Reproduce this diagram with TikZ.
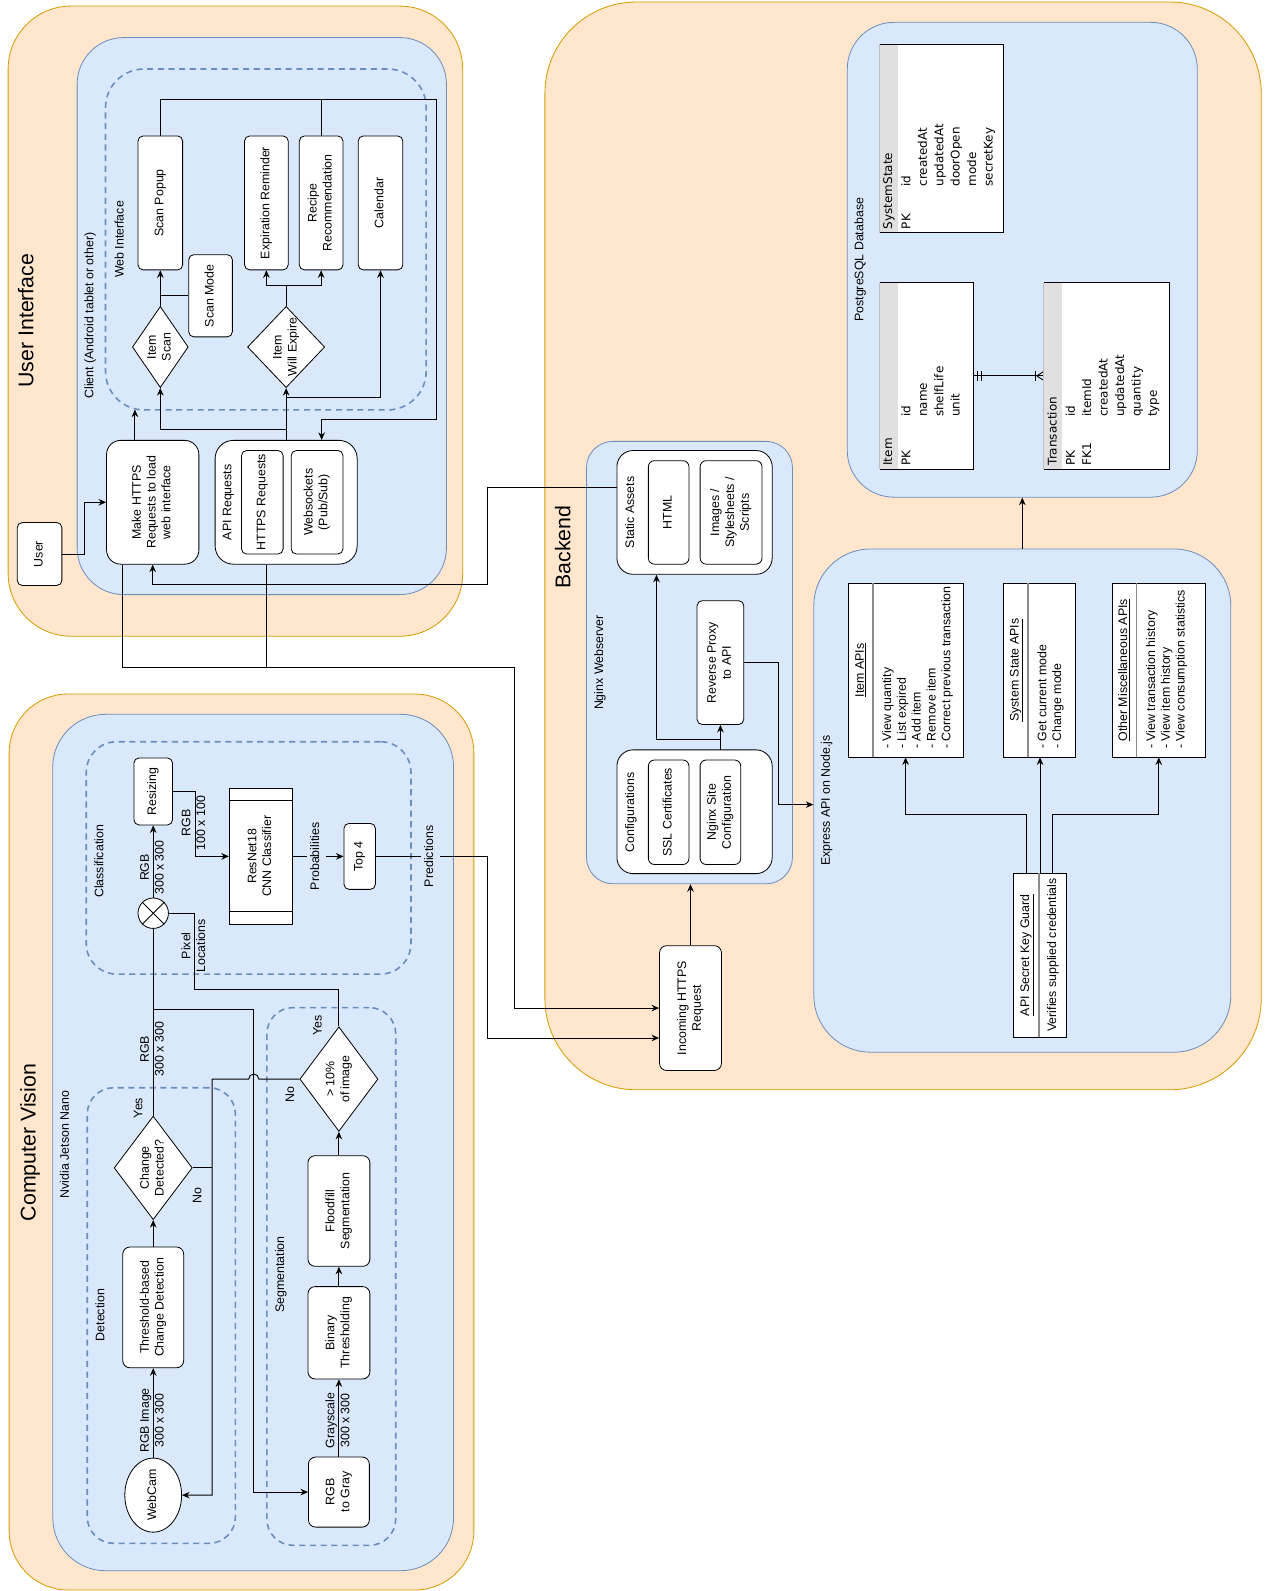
\documentclass[tikz,border=0pt]{standalone}
\usepackage{fontspec}
\setmainfont{Liberation Sans}
\newfontfamily\dbfont{DejaVu Sans}
\usepackage{graphicx}
\usetikzlibrary{arrows.meta}
\usetikzlibrary{shapes.geometric}
\pgfdeclarelayer{grouplayer}
\pgfdeclarelayer{edgelayer}
\pgfdeclarelayer{nodelayer}
\pgfsetlayers{grouplayer,edgelayer,nodelayer,main}
\definecolor{zonefill}{HTML}{FFE6CC}
\definecolor{zoneline}{HTML}{D79B00}
\definecolor{hostfill}{HTML}{DAE8FC}
\definecolor{hostline}{HTML}{6C8EBF}
\definecolor{hdrfill}{HTML}{E0E0E0}
\newcommand{\vtext}[1]{\rotatebox{90}{\begin{tabular}{@{}c@{}}#1\end{tabular}}}
\newcommand{\vlist}[1]{\rotatebox{90}{\begin{tabular}{@{}l@{}}#1\end{tabular}}}
\tikzstyle{zone}=[draw=zoneline, fill=zonefill, line width=0.8pt, inner sep=0pt]
\tikzstyle{host}=[draw=hostline, fill=hostfill, line width=0.8pt, inner sep=0pt]
\tikzstyle{stage}=[draw=hostline, dash pattern=on 6pt off 4.5pt, line width=1.6pt, inner sep=0pt]
\tikzstyle{block}=[draw=black, fill=white, rounded corners=5pt, line width=0.8pt, inner sep=0pt]
\tikzstyle{plainbox}=[draw=black, fill=white, line width=0.8pt, inner sep=0pt]
\tikzstyle{decision}=[diamond, draw=black, fill=white, line width=0.8pt, inner sep=-8pt]
\tikzstyle{txt}=[inner sep=0pt]
\tikzstyle{heading}=[inner sep=0pt, font=\fontsize{21}{25}\selectfont]
\tikzstyle{flow}=[-{Stealth[length=7.5pt,width=6.5pt,inset=2.5pt]}, draw=black, line width=0.9pt]
\tikzstyle{link}=[draw=black, line width=0.9pt]
\tikzstyle{divider}=[draw=black!45, line width=1.8pt]
\tikzstyle{schema}=[fill=white, inner sep=0pt]
\tikzstyle{dbtext}=[anchor=south, inner sep=0pt, font=\dbfont\fontsize{11.8}{16.2}\selectfont]

\begin{document}
\begin{tikzpicture}[x=1pt, y=-1pt, every node/.style={font=\fontsize{12.2}{14.6}\selectfont}]
	\useasboundingbox (0,0) rectangle (1247,1568);
	\begin{pgfonlayer}{grouplayer}
		\fill [white] (0,0) rectangle (1247,1568);
		\node [style=zone, rounded corners=62pt, minimum width=448pt, minimum height=621pt] (0) at (232, 316.5) {};
		\node [style=host, rounded corners=46pt, minimum width=364pt, minimum height=549pt] (1) at (258, 311.5) {};
		\node [style=stage, rounded corners=38pt, minimum width=316pt, minimum height=336pt] (2) at (262, 236) {};
		\node [style=zone, rounded corners=58pt, minimum width=458pt, minimum height=883pt] (3) at (238, 1125.5) {};
		\node [style=host, rounded corners=52pt, minimum width=395pt, minimum height=844pt] (4) at (249.5, 1126) {};
		\node [style=stage, rounded corners=30pt, minimum width=320pt, minimum height=229pt] (5) at (245, 845.5) {};
		\node [style=stage, rounded corners=26pt, minimum width=146pt, minimum height=449pt] (6) at (159, 1296.5) {};
		\node [style=stage, rounded corners=26pt, minimum width=127pt, minimum height=530pt] (7) at (326.5, 1258) {};
		\node [style=zone, rounded corners=90pt, minimum width=706pt, minimum height=1072pt] (8) at (890, 538) {};
		\node [style=host, rounded corners=26pt, minimum width=203pt, minimum height=436pt] (9) at (679.5, 653) {};
		\node [style=host, rounded corners=56pt, minimum width=411pt, minimum height=496pt] (10) at (1007.5, 789) {};
		\node [style=host, rounded corners=46pt, minimum width=345pt, minimum height=468pt] (11) at (1007.5, 256) {};
	\end{pgfonlayer}
	\begin{pgfonlayer}{nodelayer}
		\node [style=heading] (12) at (28, 316) {\vtext{User Interface}};
		\node [style=txt] (13) at (89, 311) {\vtext{Client (Android tablet or other)}};
		\node [style=txt] (14) at (119, 236) {\vtext{Web Interface}};
		\node [style=heading] (15) at (30, 1126) {\vtext{Computer Vision}};
		\node [style=txt] (16) at (65, 1128) {\vtext{Nvidia Jetson Nano}};
		\node [style=txt] (17) at (99, 849) {\vtext{Classification}};
		\node [style=txt] (18) at (100, 1296) {\vtext{Detection}};
		\node [style=txt] (19) at (277, 1256) {\vtext{Segmentation}};
		\node [style=heading] (20) at (557, 539) {\vtext{Backend}};
		\node [style=txt] (21) at (591.5, 653) {\vtext{Nginx Webserver}};
		\node [style=txt] (22) at (815, 789) {\vtext{Express API on Node.js}};
		\node [style=txt] (23) at (848, 256) {\vtext{PostgreSQL Database}};

		\node [style=block, minimum width=44pt, minimum height=62pt] (24) at (39, 546) {\vtext{User}};
		\node [style=block, rounded corners=14pt, minimum width=91pt, minimum height=122pt] (25) at (150.5, 495) {\vtext{Make HTTPS\\Requests to load\\web interface}};
		\node [style=block, rounded corners=18pt, minimum width=140pt, minimum height=122pt] (26) at (282, 495) {};
		\node [style=block, minimum width=41pt, minimum height=102pt] (27) at (258.5, 495) {\vtext{HTTPS Requests}};
		\node [style=block, minimum width=51pt, minimum height=102pt] (28) at (312.5, 495) {\vtext{Websockets\\(Pub/Sub)}};
		\node [style=txt] (29) at (225, 495) {\vtext{API Requests}};
		\node [style=block, minimum width=44pt, minimum height=132pt] (30) at (158, 200) {\vtext{Scan Popup}};
		\node [style=block, minimum width=43pt, minimum height=81pt] (31) at (207.5, 291.5) {\vtext{Scan Mode}};
		\node [style=decision, minimum width=55pt, minimum height=80pt] (32) at (158, 342) {\vtext{Item\\Scan}};
		\node [style=block, minimum width=43pt, minimum height=132pt] (33) at (262.5, 200) {\vtext{Expiration Reminder}};
		\node [style=block, minimum width=43pt, minimum height=132pt] (34) at (316.5, 200) {\vtext{Recipe\\Recommendation}};
		\node [style=block, minimum width=44pt, minimum height=132pt] (35) at (375, 200) {\vtext{Calendar}};
		\node [style=decision, minimum width=76pt, minimum height=80pt] (36) at (282, 342) {\vtext{Item\\Will Expire}};

		\node [style=block, ellipse, minimum width=56pt, minimum height=73pt] (37) at (151, 1473.5) {\vtext{WebCam}};
		\node [style=block, rounded corners=7pt, minimum width=60pt, minimum height=119pt] (38) at (151, 1288.5) {\vtext{Threshold-based\\Change Detection}};
		\node [style=decision, minimum width=77pt, minimum height=102pt] (39) at (151, 1151) {\vtext{Change\\Detected?}};
		\node [style=plainbox, circle, minimum size=30pt] (40) at (151, 900) {};
		\node [style=block, minimum width=38pt, minimum height=66pt] (41) at (151, 780) {\vtext{Resizing}};
		\node [style=plainbox, minimum width=62pt, minimum height=134pt] (42) at (257, 844) {\vtext{ResNet18\\CNN Classifier}};
		\node [style=block, minimum width=31pt, minimum height=65pt] (43) at (354.5, 844) {\vtext{Top 4}};
		\node [style=block, rounded corners=7pt, minimum width=60pt, minimum height=69pt] (44) at (334, 1470.5) {\vtext{RGB\\to Gray}};
		\node [style=block, rounded corners=7pt, minimum width=61pt, minimum height=91pt] (45) at (334, 1313.5) {\vtext{Binary\\Thresholding}};
		\node [style=block, rounded corners=7pt, minimum width=61pt, minimum height=109pt] (46) at (334, 1193.5) {\vtext{Floodfill\\Segmentation}};
		\node [style=decision, minimum width=77pt, minimum height=103pt] (47) at (334, 1063.5) {\vtext{> 10\%\\of image}};
		\draw [line width=0.8pt] (40.45) -- (40.225);
		\draw [line width=0.8pt] (40.135) -- (40.315);
		\draw [line width=0.8pt] ([yshift=-12pt]42.north west) -- ([yshift=-12pt]42.north east);
		\draw [line width=0.8pt] ([yshift=13pt]42.south west) -- ([yshift=13pt]42.south east);

		\node [style=txt] (48) at (151, 1400) {\vtext{RGB Image\\300 x 300}};
		\node [style=txt] (49) at (151, 1034) {\vtext{RGB\\300 x 300}};
		\node [style=txt] (50) at (151, 855) {\vtext{RGB\\300 x 300}};
		\node [style=txt] (51) at (192, 811) {\vtext{RGB\\100 x 100}};
		\node [style=txt, fill=hostfill, inner sep=2pt] (52) at (311.5, 844) {\vtext{Probabilities}};
		\node [style=txt, fill=hostfill, inner sep=2pt] (53) at (424, 844) {\vtext{Predictions}};
		\node [style=txt] (54) at (192, 932) {\vtext{Pixel\\Locations}};
		\node [style=txt] (55) at (334, 1400) {\vtext{Grayscale\\300 x 300}};
		\node [style=txt] (56) at (137.5, 1092) {\vtext{Yes}};
		\node [style=txt] (57) at (195.5, 1178) {\vtext{No}};
		\node [style=txt] (58) at (314, 1011) {\vtext{Yes}};
		\node [style=txt] (59) at (287, 1079) {\vtext{No}};

		\node [style=block, rounded corners=7pt, minimum width=61pt, minimum height=123pt] (60) at (680.5, 993.5) {\vtext{Incoming HTTPS\\Request}};
		\node [style=block, rounded corners=16pt, minimum width=153pt, minimum height=122pt] (61) at (684.5, 505) {};
		\node [style=block, rounded corners=6pt, minimum width=40pt, minimum height=102pt] (62) at (659, 505) {\vtext{HTML}};
		\node [style=block, rounded corners=6pt, minimum width=61pt, minimum height=102pt] (63) at (720.5, 505) {\vtext{Images /\\Stylesheets /\\Scripts}};
		\node [style=txt] (64) at (622, 505) {\vtext{Static Assets}};
		\node [style=block, minimum width=46pt, minimum height=122pt] (65) at (710, 653) {\vtext{Reverse Proxy\\to API}};
		\node [style=block, rounded corners=16pt, minimum width=153pt, minimum height=122pt] (66) at (684.5, 800) {};
		\node [style=block, rounded corners=6pt, minimum width=40pt, minimum height=103pt] (67) at (659, 800.5) {\vtext{SSL Certificates}};
		\node [style=block, rounded corners=6pt, minimum width=40pt, minimum height=103pt] (68) at (710, 800.5) {\vtext{Nginx Site\\Configuration}};
		\node [style=txt] (69) at (622, 800.5) {\vtext{Configurations}};

		\node [style=plainbox, minimum width=113pt, minimum height=171pt] (70) at (892.5, 660.5) {};
		\node [style=plainbox, minimum width=71pt, minimum height=171pt] (71) at (1024.5, 660.5) {};
		\node [style=plainbox, minimum width=92pt, minimum height=171pt] (72) at (1142, 660.5) {};
		\node [style=plainbox, minimum width=52pt, minimum height=161pt] (73) at (1025, 941.5) {};
		\draw [style=divider] ([xshift=25pt]70.north west) -- ([xshift=25pt]70.south west);
		\draw [style=divider] ([xshift=24.5pt]71.north west) -- ([xshift=24.5pt]71.south west);
		\draw [style=divider] ([xshift=24.5pt]72.north west) -- ([xshift=24.5pt]72.south west);
		\draw [style=divider] ([xshift=25pt]73.north west) -- ([xshift=25pt]73.south west);
		\node [style=txt] (74) at (848.5, 660.5) {\vtext{\underline{Item APIs}}};
		\node [style=txt] (75) at (1001, 660.5) {\vtext{\underline{System State APIs}}};
		\node [style=txt] (76) at (1108, 660.5) {\vtext{\underline{Other Miscellaneous APIs}}};
		\node [style=txt] (77) at (1011.5, 941.5) {\vtext{\underline{API Secret Key Guard}}};
		\node [style=txt, anchor=south] (78) at (904.5, 738) {\vlist{- View quantity\\- List expired\\- Add item\\- Remove item\\- Correct previous transaction}};
		\node [style=txt, anchor=south] (79) at (1035.5, 738) {\vlist{- Get current mode\\- Change mode}};
		\node [style=txt, anchor=south] (80) at (1150, 738) {\vlist{- View transaction history\\- View item history\\- View consumption statistics}};
		\node [style=txt, anchor=south] (81) at (1038, 1017) {\vlist{Verifies supplied credentials}};

		\node [style=schema, minimum width=122pt, minimum height=185pt] (82) at (928, 136.5) {};
		\node [style=schema, minimum width=92pt, minimum height=183pt] (83) at (913, 370.5) {};
		\node [style=schema, minimum width=123pt, minimum height=183pt] (84) at (1090.5, 370.5) {};
		\fill [hdrfill] (82.north west) rectangle ([xshift=18pt]82.south west);
		\fill [hdrfill] (83.north west) rectangle ([xshift=18pt]83.south west);
		\fill [hdrfill] (84.north west) rectangle ([xshift=18pt]84.south west);
		\draw [black!25, line width=0.8pt] (82.north west) -- (82.south west);
		\draw [black!25, line width=0.8pt] (83.north west) -- (83.south west);
		\draw [black!25, line width=0.8pt] (84.north west) -- (84.south west);
		\draw [line width=0.9pt] (82.north west) -- (82.north east) -- (82.south east) -- (82.south west);
		\draw [line width=0.9pt] (83.north west) -- (83.north east) -- (83.south east) -- (83.south west);
		\draw [line width=0.9pt] (84.north west) -- (84.north east) -- (84.south east) -- (84.south west);
		\node [style=dbtext] (86) at (876, 226) {\vlist{SystemState}};
		\node [style=dbtext] (87) at (894, 226) {\vlist{PK}};
		\node [style=dbtext] (88) at (934.5, 184) {\vlist{id\\createdAt\\updatedAt\\doorOpen\\mode\\secretKey}};
		\node [style=dbtext] (89) at (876, 459) {\vlist{Item}};
		\node [style=dbtext] (90) at (894, 459) {\vlist{PK}};
		\node [style=dbtext] (91) at (918.3, 411) {\vlist{id\\name\\shelfLife\\unit}};
		\node [style=dbtext] (92) at (1038, 459) {\vlist{Transaction}};
		\node [style=dbtext] (93) at (1064.1, 459) {\vlist{PK\\FK1}};
		\node [style=dbtext] (94) at (1096.5, 411) {\vlist{id\\itemId\\createdAt\\updatedAt\\quantity\\type}};
	\end{pgfonlayer}
	\begin{pgfonlayer}{edgelayer}
		\coordinate (100) at (430, 413);
		\coordinate (101) at (507, 658);
		\coordinate (102) at (480, 576);
		\coordinate (103) at (480, 1023);
		\coordinate (104) at (151, 995);
		\coordinate (105) at (250, 995);
		\coordinate (106) at (192, 975);
		\coordinate (107) at (209, 1063.5);
		\draw [style=flow] (24.east) -- ++(22,0) |- (25.west);
		\draw [style=flow] ([xshift=-17.5pt]25.north) -- ++(0,-30);
		\draw [style=flow] (26.north) -- (36.south);
		\draw [style=flow] ([yshift=10pt]26.north) -| (32.south);
		\draw [style=flow] ([yshift=42pt]26.north) -| (35.south);
		\draw [style=flow] (32.north) -- (30.south);
		\draw [style=link] (31.west) -- (31.west -| 30.south);
		\draw [style=flow] (36.north) -- ++(0,-20) -| (33.south);
		\draw [style=flow] (36.north) -- ++(0,-20) -| (34.south);
		\draw [style=flow] (30.north) -- ++(0,-36) -| (100) -| ([xshift=35pt]26.north);
		\draw [style=link] (34.north) -- ++(0,-36);
		\draw [style=flow] ([xshift=-29.5pt]25.south) |- (101) |- (60.west);
		\draw [style=link] ([xshift=-19pt]26.south) -- ++(0,102);
		\draw [style=flow] ([yshift=25pt]61.west) -| (102) -| (25.south);

		\draw [style=flow] (37.north) -- (38.south);
		\draw [style=flow] (38.north) -- (39.south);
		\draw [style=link] (39.north) -- (40.south);
		\draw [style=flow] (40.north) -- (41.south);
		\draw [style=flow] (41.east) -- ++(22,0) |- (42.west);
		\draw [style=flow] (42.east) -- (43.west);
		\draw [style=flow] (43.east) -| (103) -- ([yshift=-29.5pt]60.west);
		\draw [style=flow] (104) -- (105) |- (44.west);
		\draw [style=flow] (44.north) -- (45.south);
		\draw [style=flow] (45.north) -- (46.south);
		\draw [style=flow] (46.north) -- (47.south);
		\draw [style=link] (47.north) |- (106) |- (40.east);
		\draw [style=flow] (47.west) -- ++(-40,0) arc[start angle=0, end angle=-180, radius=5] -- (107) |- (37.east);
		\draw [style=link] (39.east) -- (39.east -| 107);

		\draw [style=flow] (60.north) -- (60.north |- 9.south);
		\draw [style=flow] (68.north) -- (65.south);
		\draw [style=flow] ([yshift=20pt]68.north) -| ([xshift=-37.5pt]61.south);
		\draw [style=flow] (65.east) -- ++(34,0) |- ([yshift=-4pt]10.west);
		\draw [style=flow] (10.north) -- (11.south);
		\draw [style=flow] ([xshift=-13pt]73.north) -- ++(0,-58) -| (70.south);
		\draw [style=flow] (73.north) -- (73.north |- 71.south);
		\draw [style=flow] ([xshift=12pt]73.north) -- ++(0,-58) -| (72.south);

		\draw [style=link] (83.east) -- (84.west);
		\draw [style=link] ([xshift=4pt,yshift=5pt]83.east) -- ([xshift=4pt,yshift=-5pt]83.east);
		\draw [style=link] ([xshift=8pt,yshift=5pt]83.east) -- ([xshift=8pt,yshift=-5pt]83.east);
		\draw [style=link] ([xshift=-8pt,yshift=5pt]84.west) -- ([xshift=-8pt,yshift=-5pt]84.west);
		\draw [style=link] ([xshift=-7pt]84.west) -- ([yshift=4.5pt]84.west);
		\draw [style=link] ([xshift=-7pt]84.west) -- ([yshift=-4.5pt]84.west);
	\end{pgfonlayer}
\end{tikzpicture}
\end{document}
